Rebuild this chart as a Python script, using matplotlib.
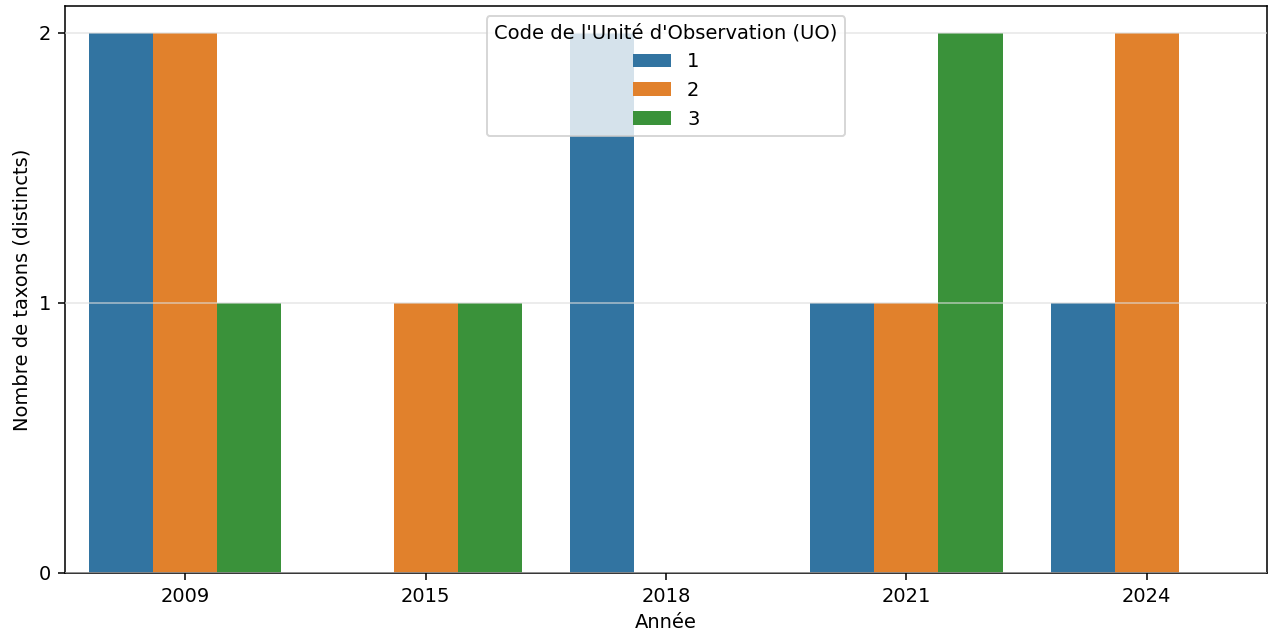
import matplotlib.pyplot as plt
import numpy as np

years = ["2009", "2015", "2018", "2021", "2024"]
uo_codes = ["1", "2", "3"]
counts_uo1 = [2, 0, 2, 1, 1]
counts_uo2 = [2, 1, 0, 1, 2]
counts_uo3 = [1, 1, 0, 2, 0]
colors = ["#3274a1", "#e1812c", "#3a923a"]

series = [counts_uo1, counts_uo2, counts_uo3]

fig, ax = plt.subplots(figsize=(1280 / 140, 638 / 140), dpi=140)
fig.subplots_adjust(left=0.0508, right=0.9898, top=0.9906, bottom=0.1019)

x = np.arange(len(years))
width = 0.8 / len(uo_codes)
for i, (code, vals) in enumerate(zip(uo_codes, series)):
    offset = (i - 1) * width
    ax.bar(x + offset, vals, width, color=colors[i], label=code)

ax.set_xticks(x)
ax.set_xticklabels(years)
ax.set_xlim(-0.5, len(years) - 0.5)
ax.set_ylim(0, 2.1)
ax.set_yticks([0, 1, 2])
ax.grid(axis='y', color='#dddddd', alpha=0.7, linewidth=0.8)
ax.set_axisbelow(False)

ax.set_xlabel('Année')
ax.set_ylabel('Nombre de taxons (distincts)')

ax.legend(title="Code de l'Unité d'Observation (UO)", loc='upper center',
          bbox_to_anchor=(0.5, 1.0))

plt.savefig('out.png', dpi=140)
